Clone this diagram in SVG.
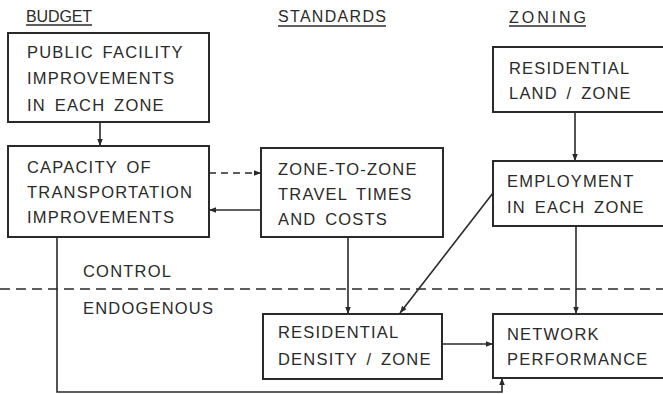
<svg xmlns="http://www.w3.org/2000/svg" width="663" height="394" viewBox="0 0 663 394">
<style>
  .box { fill: none; stroke: #2a2a2a; stroke-width: 2; }
  .t { font-family: "Liberation Sans", Arial, sans-serif; font-size: 16.5px; fill: #2a2a2a; letter-spacing: 1.2px; word-spacing: 3px; }
  .h { font-family: "Liberation Sans", Arial, sans-serif; font-size: 16px; fill: #2a2a2a; }
  .ul { stroke: #2a2a2a; stroke-width: 1.6; }
  .c { fill: none; stroke: #2a2a2a; stroke-width: 1.6; }
  .arr { marker-end: url(#ah); }
  .dash { stroke-dasharray: 7 5; }
</style>
<defs>
  <marker id="ah" viewBox="0 0 10 10" refX="10" refY="5" markerWidth="7" markerHeight="7" markerUnits="userSpaceOnUse" orient="auto">
    <path d="M0,1 L10,5 L0,9 z" fill="#2a2a2a"/>
  </marker>
</defs>
<rect width="663" height="394" fill="#fff"/>

<g id="headers">
  <text class="h" x="26" y="22" textLength="66" lengthAdjust="spacing">BUDGET</text>
  <line class="ul" x1="26" y1="25" x2="92" y2="25"/>
  <text class="h" x="278" y="22" textLength="108" lengthAdjust="spacing">STANDARDS</text>
  <line class="ul" x1="278" y1="26" x2="386" y2="26"/>
  <text class="h" x="509" y="23" textLength="77" lengthAdjust="spacing">ZONING</text>
  <line class="ul" x1="509" y1="26" x2="586" y2="26"/>
</g>

<g id="regions">
  <line x1="0" y1="289" x2="663" y2="289" stroke="#2a2a2a" stroke-width="1.6" stroke-dasharray="10 6"/>
  <text class="t" x="83" y="277">CONTROL</text>
  <text class="t" x="83" y="314">ENDOGENOUS</text>
</g>

<g id="connectors">
  <line class="c arr" x1="100" y1="122" x2="100" y2="146"/>
  <line class="c arr dash" x1="209" y1="173" x2="261" y2="173"/>
  <line class="c arr" x1="261" y1="210" x2="209" y2="210"/>
  <line class="c arr" x1="575" y1="112" x2="575" y2="161"/>
  <line class="c arr" x1="576" y1="226" x2="576" y2="314"/>
  <line class="c arr" x1="348" y1="237" x2="348" y2="314"/>
  <line class="c arr" x1="493" y1="193" x2="400" y2="313"/>
  <line class="c arr" x1="442" y1="344" x2="493" y2="344"/>
  <polyline class="c arr" points="57,237 57,392 502,392 502,378"/>
</g>

<g id="public-facility">
  <rect class="box" x="8" y="33" width="201" height="89"/>
  <text class="t" x="27" y="58">PUBLIC FACILITY</text>
  <text class="t" x="27" y="84">IMPROVEMENTS</text>
  <text class="t" x="27" y="111">IN EACH ZONE</text>
</g>

<g id="capacity">
  <rect class="box" x="8" y="146" width="201" height="91"/>
  <text class="t" x="27" y="173">CAPACITY OF</text>
  <text class="t" x="27" y="198">TRANSPORTATION</text>
  <text class="t" x="27" y="223">IMPROVEMENTS</text>
</g>

<g id="travel-times">
  <rect class="box" x="261" y="148" width="182" height="89"/>
  <text class="t" x="278" y="175">ZONE-TO-ZONE</text>
  <text class="t" x="278" y="200">TRAVEL TIMES</text>
  <text class="t" x="278" y="225">AND COSTS</text>
</g>

<g id="residential-land">
  <rect class="box" x="493" y="47" width="180" height="65"/>
  <text class="t" x="509" y="74">RESIDENTIAL</text>
  <text class="t" x="509" y="99">LAND / ZONE</text>
</g>

<g id="employment">
  <rect class="box" x="493" y="161" width="180" height="65"/>
  <text class="t" x="507" y="187">EMPLOYMENT</text>
  <text class="t" x="507" y="213">IN EACH ZONE</text>
</g>

<g id="residential-density">
  <rect class="box" x="263" y="314" width="179" height="65"/>
  <text class="t" x="278" y="338">RESIDENTIAL</text>
  <text class="t" x="278" y="365">DENSITY / ZONE</text>
</g>

<g id="network-performance">
  <rect class="box" x="493" y="314" width="180" height="64"/>
  <text class="t" x="507" y="340">NETWORK</text>
  <text class="t" x="507" y="365">PERFORMANCE</text>
</g>
</svg>
